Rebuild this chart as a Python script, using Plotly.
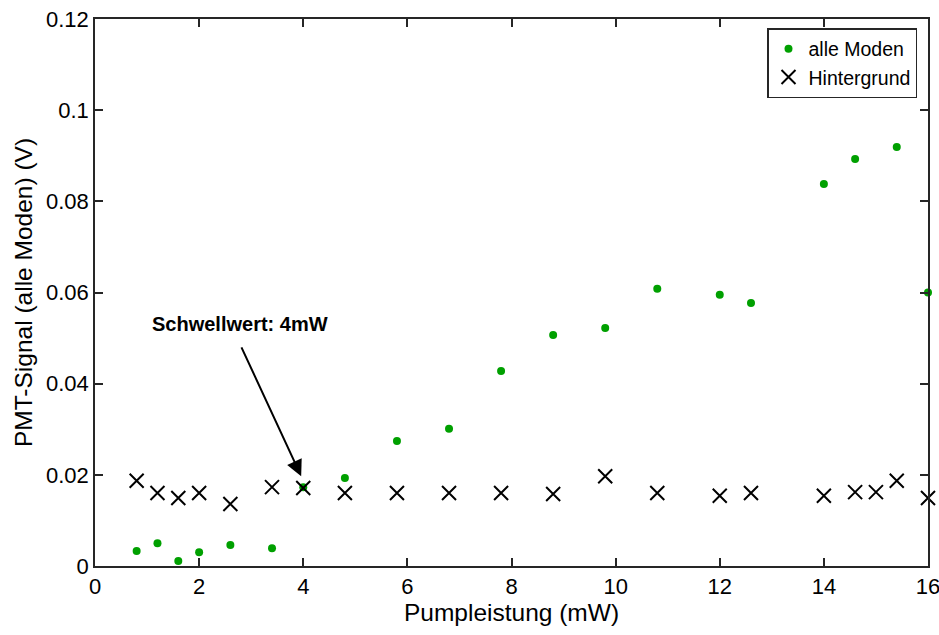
import plotly.graph_objects as go

x_moden = [0.8, 1.2, 1.6, 2.0, 2.6, 3.4, 4.0, 4.8, 5.8, 6.8, 7.8, 8.8, 9.8, 10.8, 12.0, 12.6, 14.0, 14.6, 15.4, 16.0]
y_moden = [0.0033, 0.0050, 0.0011, 0.0030, 0.0046, 0.0039, 0.0173, 0.0193, 0.0274, 0.0301, 0.0428, 0.0507, 0.0522, 0.0608, 0.0595, 0.0577, 0.0838, 0.0893, 0.0919, 0.0600]

x_hint = [0.8, 1.2, 1.6, 2.0, 2.6, 3.4, 4.0, 4.8, 5.8, 6.8, 7.8, 8.8, 9.8, 10.8, 12.0, 12.6, 14.0, 14.6, 15.0, 15.4, 16.0]
y_hint = [0.0187, 0.0160, 0.0149, 0.0160, 0.0136, 0.0173, 0.0171, 0.0160, 0.0160, 0.0160, 0.0160, 0.0158, 0.0197, 0.0160, 0.0154, 0.0160, 0.0154, 0.0162, 0.0162, 0.0187, 0.0149]

x_ticks = [0, 2, 4, 6, 8, 10, 12, 14, 16]
y_ticks = [0, 0.02, 0.04, 0.06, 0.08, 0.1, 0.12]
y_ticklabels = ["0", "0.02", "0.04", "0.06", "0.08", "0.1", "0.12"]

font = "Liberation Sans, Arial, Helvetica, sans-serif"
axc = "#262626"

fig = go.Figure()
fig.add_trace(go.Scatter(x=x_moden, y=y_moden, mode="markers", name="alle Moden",
                         marker=dict(color="#00a000", size=8, symbol="circle"), cliponaxis=False))
fig.add_trace(go.Scatter(x=x_hint, y=y_hint, mode="markers", name="Hintergrund",
                         marker=dict(color="black", size=14, symbol="x-thin-open",
                                     line=dict(color="black", width=2)), cliponaxis=False))

fig.add_annotation(x=3.96, y=0.0197, ax=2.80, ay=0.0483, xref="x", yref="y", axref="x", ayref="y",
                   text="", showarrow=True, arrowhead=2, arrowsize=1.6, arrowwidth=2, arrowcolor="black")
fig.add_annotation(x=2.79, y=0.0530, xref="x", yref="y", text="<b>Schwellwert: 4mW</b>",
                   showarrow=False, font=dict(family=font, size=20, color="black"))

axis_common = dict(showline=True, linecolor=axc, linewidth=1.5, mirror="ticks", ticks="inside",
                   ticklen=8, tickwidth=1.5, tickcolor=axc, showgrid=False, zeroline=False,
                   automargin=False, ticklabeloverflow="allow",
                   tickfont=dict(family=font, size=22, color="black"))

fig.update_xaxes(range=[0, 16], tickvals=x_ticks,
                 title=dict(text="Pumpleistung (mW)", font=dict(family=font, size=24.5, color="black"), standoff=0),
                 **axis_common)
fig.update_yaxes(range=[0, 0.12], tickvals=y_ticks, ticktext=y_ticklabels,
                 title=dict(text="PMT-Signal (alle Moden) (V)", font=dict(family=font, size=24.5, color="black"), standoff=6),
                 **axis_common)

fig.update_layout(width=939, height=635, margin=dict(l=95, r=11, t=19, b=69),
                  plot_bgcolor="white", paper_bgcolor="white",
                  showlegend=True,
                  legend=dict(x=0.9868, y=0.9835, xanchor="right", yanchor="top",
                              bgcolor="white", bordercolor=axc, borderwidth=1.5,
                              font=dict(family=font, size=19.5, color="black"),
                              tracegroupgap=0, itemsizing="trace"))

fig.write_html("out.html")
